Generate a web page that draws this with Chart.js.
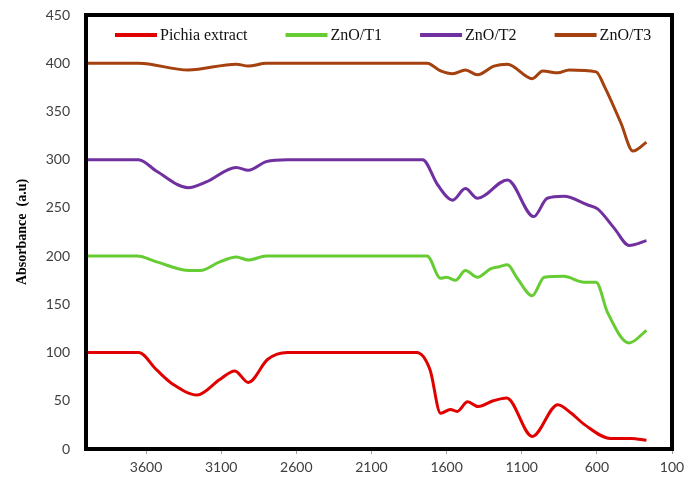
<!DOCTYPE html>
<html>
<head>
<meta charset="utf-8">
<script src="https://cdn.jsdelivr.net/npm/chart.js@4/dist/chart.umd.min.js"></script>
<style>
  html, body { margin: 0; padding: 0; background: #fff; }
  #wrap { width: 698px; height: 491px; position: relative; }
</style>
</head>
<body>
<div id="wrap"><canvas id="chart"></canvas></div>
<script>
// series labels + colours
const seriesNames = ['Pichia extract', 'ZnO/T1', 'ZnO/T2', 'ZnO/T3'];
const seriesColors = ['#e00000', '#66cc33', '#7030a0', '#a5400f'];

// wavenumber (cm-1) / absorbance
const redWn = [4000, 3650, 3530, 3420, 3260, 3110, 3010, 2920, 2790, 2660, 1800, 1710, 1640, 1575, 1530, 1460, 1390, 1290, 1200, 1030, 860, 770, 680, 510, 370, 270];
const redAbs = [100, 100, 82, 67, 56, 72, 81, 69, 93, 100, 100, 82, 37, 41, 39, 49, 44, 50, 53, 13, 46, 37, 25, 11, 11, 9];

const greenWn = [4000, 3660, 3530, 3310, 3240, 3110, 3000, 2920, 2800, 1730, 1640, 1600, 1540, 1475, 1395, 1305, 1250, 1195, 1130, 1030, 950, 820, 685, 605, 530, 385, 270];
const greenAbs = [200, 200, 194, 185, 185, 194, 199, 196, 200, 200, 177, 178, 175, 185, 178, 187, 189, 191, 177, 159, 178, 179, 173, 173, 142, 110, 123];

const purpleWn = [4000, 3650, 3530, 3320, 3200, 3000, 2920, 2800, 2660, 1760, 1660, 1560, 1475, 1395, 1195, 1020, 930, 820, 660, 595, 485, 385, 270];
const purpleAbs = [300, 300, 288, 271, 277, 292, 289, 298, 300, 300, 274, 258, 270, 260, 279, 241, 260, 262, 253, 249, 229, 211, 216];

const brownWn = [4000, 3650, 3320, 3000, 2920, 2800, 1730, 1640, 1560, 1475, 1395, 1285, 1195, 1030, 960, 860, 785, 605, 550, 440, 360, 270];
const brownAbs = [400, 400, 393, 399, 397, 400, 400, 392, 389, 393, 388, 397, 399, 384, 392, 390, 393, 391, 376, 338, 309, 318];

// axis ticks
const xTicks = [3600, 3100, 2600, 2100, 1600, 1100, 600, 100];
const yMin = 0, yMax = 450, yStep = 50;
const yTitle = 'Absorbance  (a.u)';

function toPoints(xs, ys) {
  return xs.map((x, i) => ({ x: x, y: ys[i] }));
}

const allSeries = [
  toPoints(redWn, redAbs),
  toPoints(greenWn, greenAbs),
  toPoints(purpleWn, purpleAbs),
  toPoints(brownWn, brownAbs)
];

// thick black frame round the plot area
const framePlugin = {
  id: 'frame',
  afterDatasetsDraw(chart) {
    const a = chart.chartArea;
    const ctx = chart.ctx;
    ctx.save();
    ctx.strokeStyle = '#000';
    ctx.lineWidth = 4;
    ctx.strokeRect(a.left, a.top, a.right - a.left, a.bottom - a.top);
    ctx.restore();
  }
};

// legend drawn inside the frame, one row
const innerLegend = {
  id: 'innerLegend',
  afterDraw(chart) {
    const a = chart.chartArea;
    const ctx = chart.ctx;
    ctx.save();
    ctx.font = '16px "Liberation Serif", "Times New Roman", serif';
    ctx.textBaseline = 'middle';
    let x = a.left + 29;
    const y = a.top + 20;
    chart.data.datasets.forEach(ds => {
      ctx.strokeStyle = ds.borderColor;
      ctx.lineWidth = 4;
      ctx.beginPath();
      ctx.moveTo(x, y);
      ctx.lineTo(x + 42, y);
      ctx.stroke();
      x += 45;
      ctx.fillStyle = '#111';
      ctx.fillText(ds.label, x, y + 1);
      x += ctx.measureText(ds.label).width + 38;
    });
    ctx.restore();
  }
};

const ctx = document.getElementById('chart').getContext('2d');
const chart = new Chart(ctx, {
  type: 'line',
  data: {
    datasets: allSeries.map((pts, i) => ({
      label: seriesNames[i],
      data: pts,
      borderColor: seriesColors[i],
      backgroundColor: seriesColors[i],
      borderWidth: 3,
      pointRadius: 0,
      fill: false,
      cubicInterpolationMode: 'monotone'
    }))
  },
  options: {
    responsive: true,
    maintainAspectRatio: false,
    animation: false,
    layout: { padding: { top: 15, right: 26, left: 0, bottom: 0 } },
    plugins: {
      legend: { display: false },
      tooltip: { enabled: false }
    },
    scales: {
      x: {
        type: 'linear',
        min: 100,
        max: 4000,
        reverse: true,
        afterBuildTicks: (scale) => {
          scale.ticks = xTicks.map(v => ({ value: v }));
        },
        afterFit: (scale) => { scale.height = 42; },
        grid: {
          display: true,
          drawOnChartArea: false,
          drawTicks: true,
          tickLength: 5,
          color: '#a0a0a0'
        },
        border: { display: false },
        ticks: {
          padding: 5,
          maxRotation: 0,
          autoSkip: false,
          color: '#404040',
          font: { family: 'Lato, "Noto Sans", sans-serif', size: 14 },
          callback: (v) => String(v)
        }
      },
      y: {
        min: yMin,
        max: yMax,
        afterFit: (scale) => {
          scale.width = 86;
          scale.paddingTop = 0;
          scale.paddingBottom = 0;
        },
        grid: { display: false, drawTicks: false },
        border: { display: false },
        ticks: {
          stepSize: yStep,
          padding: 16,
          color: '#404040',
          font: { family: 'Lato, "Noto Sans", sans-serif', size: 14 }
        },
        title: {
          display: true,
          text: yTitle,
          color: '#000',
          padding: { top: 14, bottom: 0 },
          font: { family: '"Liberation Serif", "Times New Roman", serif', size: 14, weight: 'bold' }
        }
      }
    }
  },
  plugins: [framePlugin, innerLegend]
});
</script>
</body>
</html>
